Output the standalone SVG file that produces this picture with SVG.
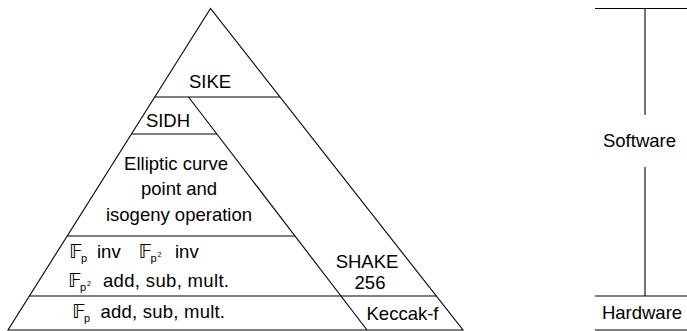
<svg xmlns="http://www.w3.org/2000/svg" width="687" height="331" viewBox="0 0 687 331">
<style>
  .ln { stroke: #000; stroke-width: 1.1; fill: none; }
  text { font-family: "Liberation Sans", "DejaVu Sans", sans-serif; fill: #000; }
  .t { font-size: 18.5px; }
  .c { text-anchor: middle; }
  .bb { font-family: "DejaVu Sans", "Liberation Sans", sans-serif; font-size: 20px; fill: #000; }
  .sub { font-size: 11px; }
  .sup { font-size: 7px; }
</style>
<rect width="687" height="331" fill="#fff"/>
<g id="connectors">
  <polygon class="ln" points="210.5,8.5 8,330 463,330"/>
  <line class="ln" x1="154.8" y1="97" x2="280" y2="97"/>
  <line class="ln" x1="188.5" y1="97" x2="367" y2="330"/>
  <line class="ln" x1="131.5" y1="134" x2="216.8" y2="134"/>
  <line class="ln" x1="67.2" y1="236" x2="295" y2="236"/>
  <line class="ln" x1="29.4" y1="296" x2="436.3" y2="296"/>
  <line class="ln" x1="595" y1="8.5" x2="687" y2="8.5"/>
  <line class="ln" x1="645" y1="8.5" x2="645" y2="115"/>
  <line class="ln" x1="645" y1="167" x2="645" y2="296"/>
  <line class="ln" x1="595" y1="296" x2="687" y2="296"/>
  <line class="ln" x1="595" y1="330" x2="687" y2="330"/>
</g>
<g id="sike"><text class="t c" x="210" y="88">SIKE</text></g>
<g id="sidh"><text class="t c" x="168" y="127">SIDH</text></g>
<g id="ec">
  <text class="t c" x="176" y="170">Elliptic curve</text>
  <text class="t c" x="179" y="195">point and</text>
  <text class="t c" x="179" y="220.5">isogeny operation</text>
</g>
<g id="field">
  <text class="bb" x="69" y="258">𝔽</text>
  <text class="sub" x="81" y="262">p</text>
  <text class="t" x="97" y="258">inv</text>
  <text class="bb" x="138.5" y="258">𝔽</text>
  <text class="sub" x="150.5" y="262">p</text>
  <text class="sup" x="157.5" y="257">2</text>
  <text class="t" x="175" y="258">inv</text>
  <text class="bb" x="68" y="287">𝔽</text>
  <text class="sub" x="80" y="291">p</text>
  <text class="sup" x="87" y="286">2</text>
  <text class="t" x="103" y="287" textLength="126" lengthAdjust="spacing">add, sub, mult.</text>
</g>
<g id="fp">
  <text class="bb" x="72" y="317.5">𝔽</text>
  <text class="sub" x="84" y="321.5">p</text>
  <text class="t" x="100.5" y="317.5" textLength="124.5" lengthAdjust="spacing">add, sub, mult.</text>
</g>
<g id="shake">
  <text class="t c"><tspan x="367" y="267.5">SHAKE</tspan><tspan x="370" y="288.5">256</tspan></text>
</g>
<g id="keccak"><text class="t" x="366.5" y="320">Keccak-f</text></g>
<g id="software"><text class="t c" x="639.5" y="147">Software</text></g>
<g id="hardware"><text class="t c" x="642" y="318.5">Hardware</text></g>
</svg>
